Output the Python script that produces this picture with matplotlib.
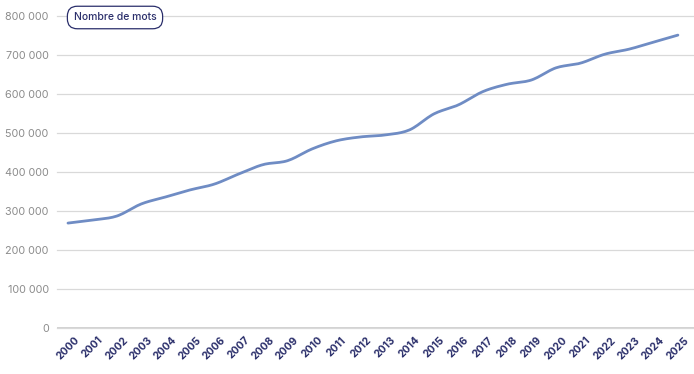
import numpy as np
import matplotlib
matplotlib.use('Agg')
from matplotlib import pyplot as plt

plt.rcParams['font.family'] = ['Inter', 'DejaVu Sans']

years = [str(y) for y in range(2000, 2026)]
mots = [269000, 277000, 287000, 318000, 336000, 354000, 369000, 395000, 419000, 429000,
        459000, 480000, 490000, 495000, 508000, 549000, 572000, 606000, 625000, 636000,
        667000, 679000, 702000, 715000, 733000, 751000]
yticks = [0, 100000, 200000, 300000, 400000, 500000, 600000, 700000, 800000]
serie = 'Nombre de mots'

def smooth(xs, ys, n=12):
	# catmull-rom, just to draw the line the way the original does
	xs = np.asarray(xs, float)
	ys = np.asarray(ys, float)
	px = np.concatenate([[2*xs[0]-xs[1]], xs, [2*xs[-1]-xs[-2]]])
	py = np.concatenate([[2*ys[0]-ys[1]], ys, [2*ys[-1]-ys[-2]]])
	ox, oy = [], []
	t = np.linspace(0, 1, n, endpoint=False)
	for i in range(1, len(px)-2):
		for arr, out in ((px, ox), (py, oy)):
			p0, p1, p2, p3 = arr[i-1], arr[i], arr[i+1], arr[i+2]
			out.extend(0.5*((2*p1) + (-p0+p2)*t + (2*p0-5*p1+4*p2-p3)*t**2 + (-p0+3*p1-3*p2+p3)*t**3))
	ox.append(xs[-1])
	oy.append(ys[-1])
	return ox, oy

fig = plt.figure(figsize=(6.94, 3.74), dpi=100)
ax = fig.add_axes([57/694, 1-328/374, 637/694, 312/374])

x = np.arange(len(years))
sx, sy = smooth(x, mots)
ax.plot(sx, sy, color='#6f8cc4', lw=2.0, solid_capstyle='round', zorder=3)

ax.set_xlim(-0.45, 25.66)
ax.set_ylim(0, 800000)
ax.set_yticks(yticks)
ax.set_yticklabels([f'{v:,}'.replace(',', ' ') for v in yticks], color='#8c8c8c', fontsize=7.8)
ax.set_xticks(x)
ax.set_xticklabels(years, rotation=45, ha='center', va='top', color='#2b2f6b',
                   fontsize=7.5, fontweight='bold')
ax.tick_params(axis='both', length=0)
ax.tick_params(axis='y', pad=6)
ax.tick_params(axis='x', pad=5)
ax.yaxis.grid(True, color='#d9d9d9', lw=0.9)
ax.set_axisbelow(True)
for s in ax.spines.values():
	s.set_visible(False)
ax.axhline(0, color='#cfcfcf', lw=1.3, zorder=1)
for ln in ax.get_ygridlines():
	ln.set_clip_on(False)

fig.text(115/694, 1-17.5/374, serie, ha='center', va='center', fontsize=7.5, color='#2b2f6b',
         fontweight='medium',
         bbox=dict(boxstyle='round,pad=0.6,rounding_size=0.95', fc='white', ec='#2b2f6b', lw=0.9))

fig.savefig('out.png', dpi=100)
